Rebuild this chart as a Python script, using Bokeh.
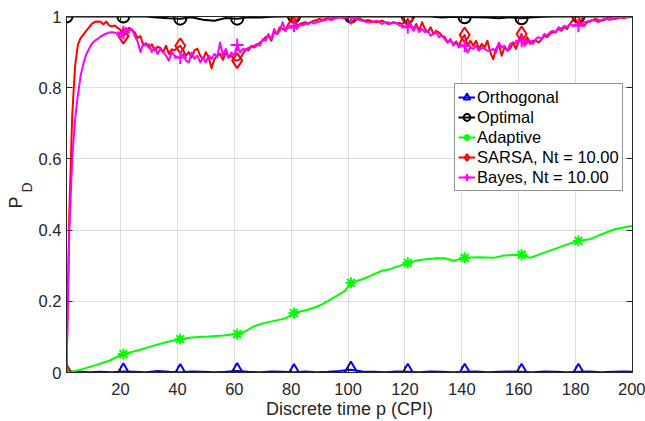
import numpy as np
from bokeh.plotting import figure
from bokeh.layouts import row
from bokeh.models import Range1d, FixedTicker, LinearAxis, Label, Legend, LegendItem
from bokeh.embed import file_html
from bokeh.resources import INLINE

FONT = "Liberation Sans"
TXT = "#262626"

X_LABEL = "Discrete time p (CPI)"
Y_LABEL_MAIN = "P"
Y_LABEL_SUB = "D"
X_TICKS = [20, 40, 60, 80, 100, 120, 140, 160, 180, 200]
Y_TICKS = [0, 0.2, 0.4, 0.6, 0.8, 1]
Y_TICK_LABELS = ["0", "0.2", "0.4", "0.6", "0.8", "1"]
MARKER_X = [1, 21, 41, 61, 81, 101, 121, 141, 161, 181]

# Orthogonal
ORTH_X = list(range(1, 200, 4)) + [200]
ORTH_Y = [0.0, 0.003, 0.001, 0.002, 0.001, 0.003, 0.002, 0.001, 0.004, 0.002,
          0.001, 0.003, 0.002, 0.001, 0.002, 0.004, 0.002, 0.001, 0.003, 0.002,
          0.001, 0.003, 0.001, 0.002, 0.004, 0.008, 0.003, 0.002, 0.001, 0.003,
          0.002, 0.001, 0.003, 0.002, 0.001, 0.002, 0.003, 0.001, 0.002, 0.003,
          0.002, 0.001, 0.003, 0.002, 0.001, 0.002, 0.003, 0.001, 0.002, 0.003, 0.002]

# Optimal
OPT_X = list(range(1, 200, 4)) + [200]
OPT_Y = [1.0, 1.0, 1.0, 1.0, 1.0, 1.0, 1.0, 1.0, 0.997, 0.995,
         0.994, 0.998, 0.991, 0.988, 0.996, 0.994, 0.998, 0.997, 0.999, 1.0,
         1.0, 1.0, 1.0, 1.0, 1.0, 1.0, 1.0, 1.0, 1.0, 1.0,
         1.0, 1.0, 1.0, 0.997, 0.999, 0.998, 0.998, 0.997, 0.995, 0.998,
         0.995, 0.998, 0.999, 1.0, 1.0, 1.0, 1.0, 1.0, 1.0, 1.0, 1.0]

# Adaptive
ADA_X = [1, 6, 11, 16, 21, 26, 31, 36, 41, 46, 51, 56, 61, 64, 67, 70, 74, 78, 81, 85,
         88, 91, 94, 97, 99, 101, 105, 108, 112, 115, 121, 125, 131, 134, 137, 141, 146, 151, 155, 161,
         164, 168, 173, 177, 181, 185, 188, 191, 194, 200]
ADA_Y = [0.0, 0.008, 0.02, 0.033, 0.052, 0.062, 0.074, 0.085, 0.094, 0.099,
         0.101, 0.104, 0.108, 0.116, 0.13, 0.138, 0.145, 0.152, 0.167, 0.175,
         0.182, 0.192, 0.206, 0.22, 0.23, 0.252, 0.262, 0.272, 0.286, 0.291,
         0.308, 0.316, 0.321, 0.321, 0.314, 0.322, 0.324, 0.322, 0.329, 0.331,
         0.322, 0.334, 0.348, 0.36, 0.37, 0.374, 0.385, 0.394, 0.403, 0.412]

# SARSA and Bayes, one value per CPI 1..200
P_X = list(range(1, 201))
SARSA_Y = [
    0.0, 0.45, 0.72, 0.86, 0.92, 0.94, 0.95, 0.96, 0.97, 0.98,
    0.985, 0.986, 0.985, 0.978, 0.986, 0.975, 0.972, 0.975, 0.968, 0.962,
    0.945, 0.955, 0.968, 0.962, 0.955, 0.94, 0.945, 0.918, 0.925, 0.912,
    0.922, 0.905, 0.915, 0.912, 0.9, 0.918, 0.895, 0.908, 0.905, 0.912,
    0.918, 0.905, 0.89, 0.9, 0.885, 0.905, 0.91, 0.89, 0.88, 0.9,
    0.885, 0.855, 0.88, 0.89, 0.895, 0.878, 0.9, 0.885, 0.89, 0.878,
    0.876, 0.88, 0.895, 0.909, 0.905, 0.918, 0.913, 0.92, 0.927, 0.932,
    0.942, 0.946, 0.932, 0.956, 0.951, 0.97, 0.965, 0.96, 0.979, 0.99,
    1.0, 0.974, 0.979, 0.982, 0.984, 0.979, 0.985, 0.988, 0.99, 0.993,
    0.99, 0.993, 0.995, 0.993, 0.996, 0.998, 0.998, 0.997, 0.999, 1.0,
    1.0, 0.996, 0.993, 0.995, 0.99, 0.988, 0.99, 0.988, 0.985, 0.984,
    0.986, 0.988, 0.984, 0.979, 0.981, 0.984, 0.98, 0.982, 0.979, 0.985,
    0.993, 0.974, 0.965, 0.979, 0.96, 0.984, 0.965, 0.956, 0.97, 0.951,
    0.96, 0.955, 0.946, 0.942, 0.927, 0.932, 0.923, 0.93, 0.918, 0.937,
    0.948, 0.918, 0.932, 0.918, 0.932, 0.909, 0.923, 0.913, 0.932, 0.899,
    0.88, 0.909, 0.923, 0.89, 0.913, 0.904, 0.91, 0.927, 0.909, 0.93,
    0.951, 0.927, 0.942, 0.923, 0.932, 0.932, 0.927, 0.935, 0.946, 0.942,
    0.951, 0.956, 0.956, 0.965, 0.96, 0.97, 0.965, 0.979, 0.99, 0.998,
    1.0, 0.979, 0.974, 0.984, 0.986, 0.99, 0.993, 0.99, 0.988, 0.99,
    0.995, 0.998, 0.993, 0.993, 0.996, 0.998, 0.995, 0.999, 0.998, 1.0]
BAYES_Y = [
    0.0, 0.4, 0.6, 0.71, 0.78, 0.835, 0.87, 0.895, 0.91, 0.925,
    0.932, 0.937, 0.944, 0.948, 0.952, 0.955, 0.956, 0.955, 0.95, 0.94,
    0.955, 0.968, 0.96, 0.965, 0.945, 0.93, 0.9, 0.925, 0.918, 0.922,
    0.9, 0.913, 0.895, 0.909, 0.9, 0.89, 0.876, 0.9, 0.89, 0.885,
    0.885, 0.895, 0.876, 0.871, 0.899, 0.881, 0.89, 0.871, 0.885, 0.871,
    0.89, 0.881, 0.895, 0.885, 0.927, 0.89, 0.909, 0.885, 0.899, 0.89,
    0.92, 0.899, 0.909, 0.904, 0.913, 0.913, 0.918, 0.923, 0.918, 0.937,
    0.932, 0.951, 0.937, 0.965, 0.95, 0.96, 0.984, 0.96, 0.97, 0.968,
    0.974, 0.965, 0.979, 0.975, 0.979, 0.982, 0.984, 0.98, 0.984, 0.986,
    0.988, 0.99, 0.993, 0.99, 0.993, 0.996, 0.998, 0.996, 0.998, 1.0,
    0.998, 0.996, 0.993, 0.99, 0.988, 0.986, 0.984, 0.984, 0.986, 0.988,
    0.985, 0.979, 0.984, 0.984, 0.98, 0.984, 0.982, 0.975, 0.974, 0.972,
    0.97, 0.979, 0.96, 0.974, 0.956, 0.965, 0.956, 0.96, 0.946, 0.951,
    0.956, 0.942, 0.946, 0.936, 0.927, 0.937, 0.918, 0.927, 0.913, 0.92,
    0.918, 0.899, 0.913, 0.909, 0.918, 0.904, 0.913, 0.909, 0.904, 0.904,
    0.909, 0.899, 0.927, 0.913, 0.918, 0.904, 0.923, 0.927, 0.925, 0.93,
    0.932, 0.918, 0.927, 0.932, 0.923, 0.937, 0.942, 0.937, 0.951, 0.946,
    0.956, 0.96, 0.956, 0.97, 0.965, 0.974, 0.97, 0.979, 0.974, 0.978,
    0.974, 0.979, 0.984, 0.986, 0.988, 0.99, 0.988, 0.984, 0.99, 0.993,
    0.993, 0.99, 0.995, 0.993, 0.996, 0.998, 0.998, 0.997, 0.999, 1.0]

SERIES = [
    ("Orthogonal", ORTH_X, ORTH_Y, "#0000ff", "triangle", 14),
    ("Optimal", OPT_X, OPT_Y, "#000000", "circle", 12),
    ("Adaptive", ADA_X, ADA_Y, "#00ff00", "asterisk", 11),
    ("SARSA, Nt = 10.00", P_X, SARSA_Y, "#ff0000", "diamond", 15),
    ("Bayes, Nt = 10.00", P_X, BAYES_Y, "#ff00ff", "cross", 13),
]

LABEL_W = 35

# narrow panel that carries the y-axis label P_D
lab = figure(width=LABEL_W, height=421, output_backend="svg", toolbar_location=None,
             x_range=Range1d(0, LABEL_W), y_range=Range1d(0, 421),
             x_axis_type=None, y_axis_type=None, min_border=0,
             background_fill_color="white", border_fill_color="white")
lab.outline_line_color = None
lab.grid.visible = False
lab.add_layout(Label(x=15, y=194, text=Y_LABEL_MAIN, angle=np.pi / 2,
                     text_font=FONT, text_font_size="18px", text_color=TXT,
                     text_align="left", text_baseline="alphabetic"))
lab.add_layout(Label(x=26, y=213, text=Y_LABEL_SUB, angle=np.pi / 2,
                     text_font=FONT, text_font_size="14px", text_color=TXT,
                     text_align="left", text_baseline="alphabetic"))

p = figure(width=645 - LABEL_W, height=421, output_backend="svg", toolbar_location=None,
           x_range=Range1d(1, 200), y_range=Range1d(0, 1),
           min_border_left=65 - LABEL_W, min_border_right=13, min_border_top=16,
           min_border_bottom=49,
           background_fill_color="white", border_fill_color="white")
p.outline_line_color = TXT
p.outline_line_width = 1

bottom_axis = p.below[0]
left_axis = p.left[0]
bottom_axis.ticker = FixedTicker(ticks=X_TICKS)
left_axis.ticker = FixedTicker(ticks=Y_TICKS)
left_axis.major_label_overrides = {t: s for t, s in zip(Y_TICKS, Y_TICK_LABELS)}
bottom_axis.axis_label = X_LABEL

top_axis = LinearAxis(ticker=FixedTicker(ticks=X_TICKS))
right_axis = LinearAxis(ticker=FixedTicker(ticks=Y_TICKS))
p.add_layout(top_axis, "above")
p.add_layout(right_axis, "right")

for ax in [bottom_axis, left_axis, top_axis, right_axis]:
    ax.axis_line_color = TXT
    ax.major_tick_line_color = TXT
    ax.major_tick_in = 6
    ax.major_tick_out = 0
    ax.minor_tick_line_color = None
    ax.major_label_text_font = FONT
    ax.major_label_text_font_size = "16.5px"
    ax.major_label_text_color = TXT
for ax in [top_axis, right_axis]:
    ax.major_label_text_font_size = "1px"
    ax.major_label_text_color = None
    ax.major_label_standoff = 0
bottom_axis.major_label_standoff = 10
left_axis.major_label_standoff = 5
bottom_axis.axis_label_text_font = FONT
bottom_axis.axis_label_text_font_size = "18px"
bottom_axis.axis_label_text_font_style = "normal"
bottom_axis.axis_label_text_color = TXT
bottom_axis.axis_label_standoff = 1

p.xgrid.ticker = FixedTicker(ticks=X_TICKS)
p.ygrid.ticker = FixedTicker(ticks=Y_TICKS)
for g in [p.xgrid[0], p.ygrid[0]]:
    g.grid_line_color = TXT
    g.grid_line_alpha = 0.15

items = []
for name, xs, ys, color, marker, size in SERIES:
    lr = p.line(xs, ys, line_color=color, line_width=2, line_join="round")
    lookup = dict(zip(xs, ys))
    my = [lookup[x] for x in MARKER_X]
    sr = p.scatter(MARKER_X, my, marker=marker, size=size, line_color=color, line_width=2,
                   fill_color=None)
    items.append(LegendItem(label=name, renderers=[lr, sr]))

legend = Legend(items=items, location=(388, 181))
legend.label_text_font = FONT
legend.label_text_font_size = "16.5px"
legend.label_text_color = "#000000"
legend.glyph_width = 17
legend.glyph_height = 20
legend.label_height = 20
legend.label_standoff = 2
legend.padding = 3
legend.spacing = 0
legend.margin = 0
legend.border_line_color = TXT
legend.border_line_width = 1
legend.background_fill_color = "white"
legend.background_fill_alpha = 1
p.add_layout(legend)

layout = row(lab, p)
open("out.html", "w").write(file_html(layout, INLINE))
